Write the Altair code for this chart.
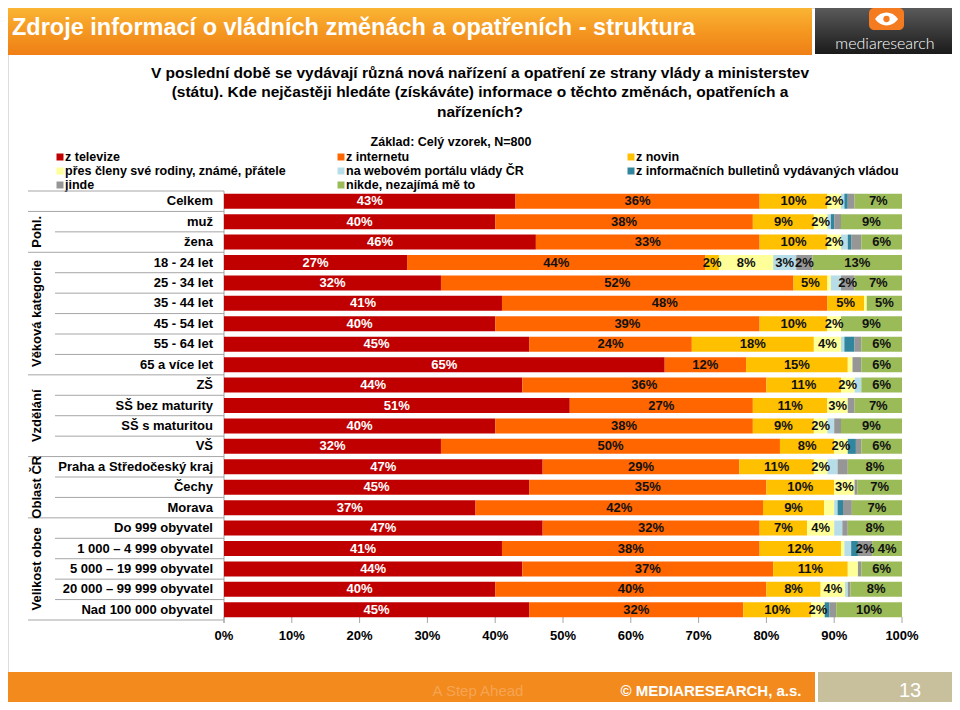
import altair as alt
import pandas as pd

# ---------------- data ----------------
rows = ["Celkem", "muž", "žena", "18 - 24 let", "25 - 34 let", "35 - 44 let",
        "45 - 54 let", "55 - 64 let", "65 a více let", "ZŠ", "SŠ bez maturity",
        "SŠ s maturitou", "VŠ", "Praha a Středočeský kraj", "Čechy", "Morava",
        "Do 999 obyvatel", "1 000 – 4 999 obyvatel", "5 000 – 19 999 obyvatel",
        "20 000 – 99 999 obyvatel", "Nad 100 000 obyvatel"]

categories = ["z televize", "z internetu", "z novin",
              "přes členy své rodiny, známé, přátele", "na webovém portálu vlády ČR",
              "z informačních bulletinů vydávaných vládou",
              "jinde", "nikde, nezajímá mě to"]

tv       = [43, 40, 46, 27, 32, 41, 40, 45, 65, 44, 51, 40, 32, 47, 45, 37.1, 47, 41, 44, 40, 45]
internet = [36, 38, 33, 44, 52, 48, 39, 24, 12, 36, 27, 38, 50, 29, 35, 42.4, 32, 38, 37, 40, 31.6]
noviny   = [10, 9, 10, 2, 5, 5.4, 10, 18, 15, 11, 11, 9, 8, 11, 10, 9, 7, 12, 11, 8, 10]
rodina   = [2, 2, 2, 8, 0.5, 0.4, 2, 4, 0.7, 2, 3, 2, 2, 2, 3, 1.5, 4, 0.5, 1.5, 3.6, 2]
portal   = [0.5, 0.5, 1, 3.4, 1.5, 0, 0, 0.5, 0, 1, 0, 1, 0, 1.5, 0, 0.5, 1.2, 1, 0, 0.4, 0]
bulletin = [0.5, 0.5, 0.5, 0, 0, 0, 0, 1.5, 0, 0, 0, 0, 1.2, 0, 0, 0.8, 0, 1, 0, 0, 0.7]
jinde    = [1, 1, 1.5, 2.4, 2, 0, 0, 1, 1.3, 0, 1, 1, 0.8, 1.5, 0.4, 1.3, 0.8, 2.1, 0.5, 0.4, 1]
nikde    = [7, 9, 6, 13.2, 7, 5.2, 9, 6, 6, 6, 7, 9, 6, 8, 6.6, 7.4, 8, 4.4, 6, 7.6, 9.7]
series = [tv, internet, noviny, rodina, portal, bulletin, jinde, nikde]

groups = [("Pohl.", rows[1:3]), ("Věková kategorie", rows[3:9]), ("Vzdělání", rows[9:13]),
          ("Oblast ČR", rows[13:16]), ("Velikost obce", rows[16:21])]

tick_values = [0, 10, 20, 30, 40, 50, 60, 70, 80, 90, 100]

# ---------------- styles ----------------
colors = ["#C00000", "#FF6600", "#FFC000", "#FFFF99", "#B7DEE8", "#31859C", "#969696", "#9BBB59"]
BODY = "Liberation Sans, Arial, sans-serif"
LINE = "#A6A6A6"

xs = alt.Scale(domain=[0, 100], range=[216, 894])
ys = alt.Scale(domain=rows, range=[183, 612], paddingInner=0, paddingOuter=0)
cs = alt.Scale(domain=categories, range=colors)

# ---------------- tables ----------------
recs = []
for i, r in enumerate(rows):
    cum = 0.0
    for j, c in enumerate(categories):
        v = series[j][i]
        recs.append(dict(row=r, cat=c, order=j, value=v, x0=cum, x1=cum + v,
                         mid=cum + v / 2, label=(f"{round(v)}%" if v >= 2 else "")))
        cum += v
df = pd.DataFrame(recs)

group_last = [g[1][-1] for g in groups]
sep_full = [rows[0]] + group_last
sep_short = [r for r in rows[1:] if r not in group_last]

g_even, g_odd = [], []
for name, members in groups:
    n = len(members)
    if n % 2 == 0:
        g_even.append(dict(name=name, row=members[n // 2 - 1]))
    else:
        g_odd.append(dict(name=name, row=members[n // 2]))

leg_col_x = [52, 333, 623]
leg_row_y = [149, 163, 177]
leg = pd.DataFrame([dict(cat=c, px=leg_col_x[k % 3], py=leg_row_y[k // 3]) for k, c in enumerate(categories)])

ticks = pd.DataFrame({"t": tick_values, "lab": [f"{t}%" for t in tick_values]})
one = pd.DataFrame({"a": [0]})

Y = lambda **kw: alt.Y("row:N", scale=ys, axis=None, **kw)

# ---------------- main plot ----------------
bars = alt.Chart(df).mark_bar(size=15).encode(
    x=alt.X("x0:Q", scale=xs, axis=None), x2="x1:Q", y=Y(),
    color=alt.Color("cat:N", scale=cs, legend=None),
    order=alt.Order("order:Q"))

bar_text = alt.Chart(df).transform_filter(alt.datum.label != "").mark_text(
    font=BODY, fontSize=13, fontWeight="bold", baseline="middle").encode(
    x=alt.X("mid:Q", scale=xs, axis=None), y=Y(), text="label:N",
    color=alt.condition(alt.datum.cat == categories[0], alt.value("white"), alt.value("#111111")))

row_text = alt.Chart(pd.DataFrame({"row": rows})).mark_text(
    font=BODY, fontSize=13, fontWeight="bold", align="right", baseline="middle",
    x=205, color="#000000").encode(y=Y(), text="row:N")

sep_f = alt.Chart(pd.DataFrame({"row": sep_full})).mark_rule(color=LINE, strokeWidth=1).encode(
    y=Y(bandPosition=1), x=alt.value(20), x2=alt.value(216))
sep_s = alt.Chart(pd.DataFrame({"row": sep_short})).mark_rule(color=LINE, strokeWidth=1).encode(
    y=Y(bandPosition=1), x=alt.value(47), x2=alt.value(216))
sep_top = alt.Chart(pd.DataFrame({"row": [rows[0]]})).mark_rule(color=LINE, strokeWidth=1).encode(
    y=Y(bandPosition=0), x=alt.value(20), x2=alt.value(216))

vline = alt.Chart(pd.DataFrame({"x": [0]})).mark_rule(color=LINE, strokeWidth=1).encode(
    x=alt.X("x:Q", scale=xs, axis=None), y=alt.value(183), y2=alt.value(615))

tick_marks = alt.Chart(ticks).mark_rule(color=LINE, strokeWidth=1).encode(
    x=alt.X("t:Q", scale=xs, axis=None), y=alt.value(609), y2=alt.value(615))
tick_text = alt.Chart(ticks).mark_text(font=BODY, fontSize=13, fontWeight="bold",
                                       baseline="middle", color="#000000").encode(
    x=alt.X("t:Q", scale=xs, axis=None), y=alt.value(628), text="lab:N")

grp_even = alt.Chart(pd.DataFrame(g_even)).mark_text(
    font=BODY, fontSize=13, fontWeight="bold", angle=270, baseline="middle", align="center",
    x=29, color="#000000").encode(y=Y(bandPosition=1), text="name:N")
grp_odd = alt.Chart(pd.DataFrame(g_odd)).mark_text(
    font=BODY, fontSize=13, fontWeight="bold", angle=270, baseline="middle", align="center",
    x=29, color="#000000").encode(y=Y(), text="name:N")

main = alt.layer(sep_top, sep_f, sep_s, vline, tick_marks, bars, bar_text, row_text,
                 tick_text, grp_even, grp_odd)

# ---------------- legend ----------------
leg_sq = alt.Chart(leg).mark_square(size=49, opacity=1).encode(
    x=alt.X("px:Q", scale=None, axis=None), y=alt.Y("py:Q", scale=None, axis=None),
    color=alt.Color("cat:N", scale=cs, legend=None))
leg_tx = alt.Chart(leg).transform_calculate(tx="datum.px + 5").mark_text(
    font=BODY, fontSize=12.5, fontWeight="bold", align="left", baseline="middle",
    color="#000000").encode(
    x=alt.X("tx:Q", scale=None, axis=None), y=alt.Y("py:Q", scale=None, axis=None), text="cat:N")
legend = alt.layer(leg_sq, leg_tx)

# ---------------- decoration ----------------
head_grad = alt.Gradient(gradient="linear", x1=0, x2=0, y1=0, y2=1,
                         stops=[alt.GradientStop(color="#FAB535", offset=0),
                                alt.GradientStop(color="#F59A22", offset=0.45),
                                alt.GradientStop(color="#EF7F16", offset=1)])
logo_grad = alt.Gradient(gradient="linear", x1=0, x2=0, y1=0, y2=1,
                         stops=[alt.GradientStop(color="#5A5A5A", offset=0),
                                alt.GradientStop(color="#1A1A1A", offset=1)])

def box(x1, x2, y1, y2, **mk):
    return alt.Chart(one).mark_rect(**mk).encode(
        x=alt.value(x1), x2=alt.value(x2), y=alt.value(y1), y2=alt.value(y2))

def txt(s, x, y, **mk):
    return alt.Chart(one).mark_text(text=s, x=x, y=y, baseline="middle", **mk).encode()

header = box(0, 804, 0, 47, color=head_grad)
logo = box(807, 944, 0, 46, color=logo_grad)
logo_sq = box(861, 896, 0, 22, color="#F47B20", cornerRadius=5)
eye = alt.Chart(one).mark_point(
    shape="M-1,0 C-0.5,-0.75 0.5,-0.75 1,0 C0.5,0.75 -0.5,0.75 -1,0 Z",
    filled=True, color="white", size=529, opacity=1).encode(x=alt.value(878.5), y=alt.value(11))
pupil = alt.Chart(one).mark_point(shape="circle", filled=True, color="#F47B20", size=40,
                                  opacity=1).encode(x=alt.value(878.5), y=alt.value(11))
logo_txt = txt("mediaresearch", 877, 36, font="Lato, Open Sans, sans-serif", fontSize=16,
               fontWeight=300, color="white", align="center")

title = txt("Zdroje informací o vládních změnách a opatřeních - struktura", 4, 20,
            font=BODY, fontSize=23.5, fontWeight="bold", color="white", align="left")

q1 = txt("V poslední době se vydávají různá nová nařízení a opatření ze strany vlády a ministerstev",
         472, 65, font=BODY, fontSize=15.5, fontWeight="bold", color="#000000", align="center")
q2 = txt("(státu).  Kde nejčastěji hledáte (získáváte) informace o těchto změnách, opatřeních a",
         472, 84, font=BODY, fontSize=15.5, fontWeight="bold", color="#000000", align="center")
q3 = txt("nařízeních?", 472, 104, font=BODY, fontSize=15.5, fontWeight="bold",
         color="#000000", align="center")
base = txt("Základ: Celý vzorek, N=800", 443, 134, font=BODY, fontSize=12.5, fontWeight="bold",
           color="#000000", align="center")

footer = box(0, 807, 664, 694, color="#F28A1E")
footer2 = box(810, 944, 664, 694, color="#C8C09D")
f1 = txt("A Step Ahead", 470, 683, font=BODY, fontSize=15, color="#F6A452", align="center")
f2 = txt("© MEDIARESEARCH, a.s.", 703, 683, font=BODY, fontSize=15, fontWeight="bold",
         color="white", align="center")
f3 = txt("13", 902, 683, font=BODY, fontSize=20, color="white", align="center")

decor = alt.layer(header, logo, logo_sq, eye, pupil, logo_txt, title, q1, q2, q3, base,
                  footer, footer2, f1, f2, f3)

chart = alt.layer(decor, legend, main).resolve_scale(
    x="independent", y="independent", color="shared").properties(
    width=944, height=694, autosize=alt.AutoSizeParams(type="none"), padding=0
).configure_view(stroke=None).configure(background="white")

chart.save("out.html", embed_options={"renderer": "svg", "actions": False})
